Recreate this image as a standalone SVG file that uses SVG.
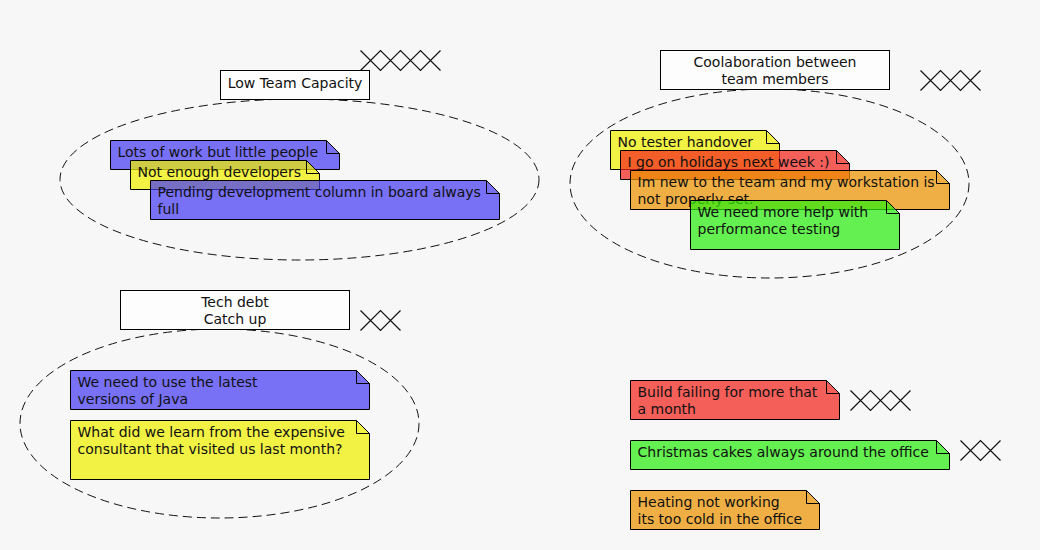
<svg xmlns="http://www.w3.org/2000/svg" width="1040" height="550" viewBox="0 0 1040 550">
<style>
text{font-family:"DejaVu Sans","Liberation Sans",sans-serif;font-size:14px;fill:#111}
.box{fill:#fdfdfd;stroke:#000;stroke-width:1}
.ell{fill:none;stroke:#111;stroke-width:1;stroke-dasharray:9,5}
.n{stroke:#000;stroke-width:1;fill-opacity:0.72}
.fold{fill:none;stroke:#000;stroke-width:1}
.blue{fill:#473bf4}.yellow{fill:#f0f000}.red{fill:#f4241d}.orange{fill:#ed9300}.green{fill:#2bed0f}
.x{fill:none;stroke:#111;stroke-width:1.2}
.c{text-anchor:middle}
</style>
<rect width="1040" height="550" fill="#f7f7f7"/>
<g id="connectors"></g>

<g id="group-low-team-capacity">
<ellipse class="ell" cx="299.5" cy="179.5" rx="239.5" ry="80.5"/>
<rect class="box" x="220.5" y="70.5" width="149" height="29"/>
<text class="c" x="295" y="87.5">Low Team Capacity</text>
<path class="x" d="M360.5,50.5 L380.5,70.5 L400.5,50.5 L420.5,70.5 L440.5,50.5 M360.5,70.5 L380.5,50.5 L400.5,70.5 L420.5,50.5 L440.5,70.5"/>
</g>
<g id="note-lots">
<path class="n blue" d="M110.5,140.5 H326.5 L339.5,153.5 V169.5 H110.5 Z"/>
<path class="fold" d="M326.5,140.5 V153.5 H339.5"/>
<text x="117.5" y="157">Lots of work but little people</text>
</g>
<g id="note-not-enough">
<path class="n yellow" d="M130.5,160.5 H306.5 L319.5,173.5 V189.5 H130.5 Z"/>
<path class="fold" d="M306.5,160.5 V173.5 H319.5"/>
<text x="137.5" y="177">Not enough developers</text>
</g>
<g id="note-pending">
<path class="n blue" d="M150.5,180.5 H486.5 L499.5,193.5 V219.5 H150.5 Z"/>
<path class="fold" d="M486.5,180.5 V193.5 H499.5"/>
<text x="157.5" y="197">Pending development column in board always</text>
<text x="157.5" y="213.5">full</text>
</g>

<g id="group-collaboration">
<ellipse class="ell" cx="769.5" cy="183.5" rx="199.5" ry="94.5"/>
<rect class="box" x="660.5" y="50.5" width="229" height="39"/>
<text class="c" x="775" y="67">Coolaboration between</text>
<text class="c" x="775" y="83.5">team members</text>
<path class="x" d="M920.5,70.5 L940.5,90.5 L960.5,70.5 L980.5,90.5 M920.5,90.5 L940.5,70.5 L960.5,90.5 L980.5,70.5"/>
</g>
<g id="note-tester">
<path class="n yellow" d="M610.5,130.5 H766.5 L779.5,143.5 V169.5 H610.5 Z"/>
<path class="fold" d="M766.5,130.5 V143.5 H779.5"/>
<text x="617.5" y="147">No tester handover</text>
</g>
<g id="note-holidays">
<path class="n red" d="M620.5,150.5 H836.5 L849.5,163.5 V179.5 H620.5 Z"/>
<path class="fold" d="M836.5,150.5 V163.5 H849.5"/>
<text x="627.5" y="167">I go on holidays next week :)</text>
</g>
<g id="note-new">
<path class="n orange" d="M630.5,170.5 H936.5 L949.5,183.5 V209.5 H630.5 Z"/>
<path class="fold" d="M936.5,170.5 V183.5 H949.5"/>
<text x="637.5" y="187">Im new to the team and my workstation is</text>
<text x="637.5" y="203.5">not properly set.</text>
</g>
<g id="note-performance">
<path class="n green" d="M690.5,200.5 H886.5 L899.5,213.5 V249.5 H690.5 Z"/>
<path class="fold" d="M886.5,200.5 V213.5 H899.5"/>
<text x="697.5" y="217">We need more help with</text>
<text x="697.5" y="233.5">performance testing</text>
</g>

<g id="group-tech-debt">
<ellipse class="ell" cx="219.5" cy="423.5" rx="199.5" ry="94.5"/>
<rect class="box" x="120.5" y="290.5" width="229" height="39"/>
<text class="c" x="235" y="307">Tech debt</text>
<text class="c" x="235" y="323.5">Catch up</text>
<path class="x" d="M360.5,310.5 L380.5,330.5 L400.5,310.5 M360.5,330.5 L380.5,310.5 L400.5,330.5"/>
</g>
<g id="note-java">
<path class="n blue" d="M70.5,370.5 H356.5 L369.5,383.5 V409.5 H70.5 Z"/>
<path class="fold" d="M356.5,370.5 V383.5 H369.5"/>
<text x="77.5" y="387">We need to use the latest</text>
<text x="77.5" y="403.5">versions of Java</text>
</g>
<g id="note-consultant">
<path class="n yellow" d="M70.5,420.5 H356.5 L369.5,433.5 V479.5 H70.5 Z"/>
<path class="fold" d="M356.5,420.5 V433.5 H369.5"/>
<text x="77.5" y="437">What did we learn from the expensive</text>
<text x="77.5" y="453.5">consultant that visited us last month?</text>
</g>

<g id="note-build">
<path class="n red" d="M630.5,380.5 H826.5 L839.5,393.5 V419.5 H630.5 Z"/>
<path class="fold" d="M826.5,380.5 V393.5 H839.5"/>
<text x="637.5" y="397">Build failing for more that</text>
<text x="637.5" y="413.5">a month</text>
<path class="x" d="M850.5,390.5 L870.5,410.5 L890.5,390.5 L910.5,410.5 M850.5,410.5 L870.5,390.5 L890.5,410.5 L910.5,390.5"/>
</g>
<g id="note-christmas">
<path class="n green" d="M630.5,440.5 H936.5 L949.5,453.5 V469.5 H630.5 Z"/>
<path class="fold" d="M936.5,440.5 V453.5 H949.5"/>
<text x="637.5" y="457">Christmas cakes always around the office</text>
<path class="x" d="M960.5,440.5 L980.5,460.5 L1000.5,440.5 M960.5,460.5 L980.5,440.5 L1000.5,460.5"/>
</g>
<g id="note-heating">
<path class="n orange" d="M630.5,490.5 H806.5 L819.5,503.5 V529.5 H630.5 Z"/>
<path class="fold" d="M806.5,490.5 V503.5 H819.5"/>
<text x="637.5" y="507">Heating not working</text>
<text x="637.5" y="523.5">its too cold in the office</text>
</g>
</svg>
